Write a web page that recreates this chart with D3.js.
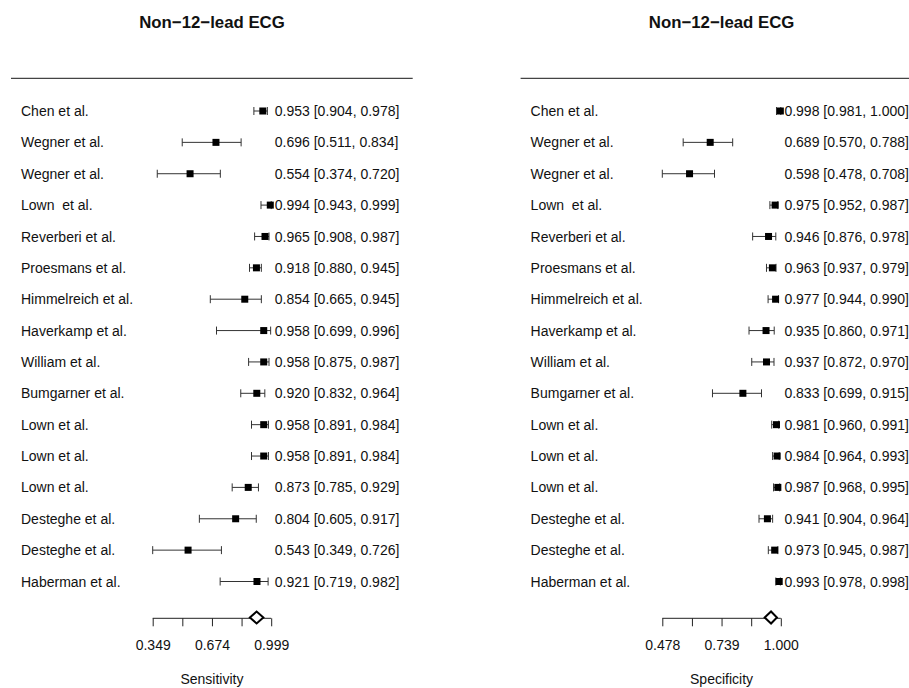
<!DOCTYPE html>
<html>
<head>
<meta charset="utf-8">
<script src="https://cdn.jsdelivr.net/npm/d3@7"></script>
<style>
  html, body { margin: 0; padding: 0; background: #fff; }
  svg text { font-family: "Liberation Sans", Arial, Helvetica, sans-serif; fill: #111; white-space: pre; }
</style>
</head>
<body>
<svg id="chart" width="909" height="688"></svg>
<script>
// Studies (same order in both panels)
const studies = ["Chen et al.", "Wegner et al.", "Wegner et al.", "Lown  et al.", "Reverberi et al.",
  "Proesmans et al.", "Himmelreich et al.", "Haverkamp et al.", "William et al.", "Bumgarner et al.",
  "Lown et al.", "Lown et al.", "Lown et al.", "Desteghe et al.", "Desteghe et al.", "Haberman et al."];

// Sensitivity estimates with 95% CI
const sensitivity      = [0.953, 0.696, 0.554, 0.994, 0.965, 0.918, 0.854, 0.958, 0.958, 0.920, 0.958, 0.958, 0.873, 0.804, 0.543, 0.921];
const sensitivityLower = [0.904, 0.511, 0.374, 0.943, 0.908, 0.880, 0.665, 0.699, 0.875, 0.832, 0.891, 0.891, 0.785, 0.605, 0.349, 0.719];
const sensitivityUpper = [0.978, 0.834, 0.720, 0.999, 0.987, 0.945, 0.945, 0.996, 0.987, 0.964, 0.984, 0.984, 0.929, 0.917, 0.726, 0.982];
const sensitivityPooled = [0.919, 0.882, 0.956]; // estimate, lower, upper

// Specificity estimates with 95% CI
const specificity      = [0.998, 0.689, 0.598, 0.975, 0.946, 0.963, 0.977, 0.935, 0.937, 0.833, 0.981, 0.984, 0.987, 0.941, 0.973, 0.993];
const specificityLower = [0.981, 0.570, 0.478, 0.952, 0.876, 0.937, 0.944, 0.860, 0.872, 0.699, 0.960, 0.964, 0.968, 0.904, 0.945, 0.978];
const specificityUpper = [1.000, 0.788, 0.708, 0.987, 0.978, 0.979, 0.990, 0.971, 0.970, 0.915, 0.991, 0.993, 0.995, 0.964, 0.987, 0.998];
const specificityPooled = [0.957, 0.929, 0.983];

const panelTitle = "Non\u221212\u2212lead ECG";

const svg = d3.select("#chart");
svg.append("rect").attr("width", 909).attr("height", 688).attr("fill", "#fff");

const fmt = d3.format(".3f");
const rowY = d3.scaleLinear().domain([0, studies.length - 1]).range([111, 581.5]);

function drawPanel(offsetX, est, lo, hi, pooled, axisLabel) {
  const g = svg.append("g").attr("transform", `translate(${offsetX},0)`);

  const xMin = d3.min(lo), xMax = d3.max(hi);
  const x = d3.scaleLinear().domain([xMin, xMax]).range([152.7, 271.2]);

  // title
  g.append("text").attr("x", 212).attr("y", 28.3).attr("text-anchor", "middle")
    .style("font-size", "16.8px").style("font-weight", "bold").text(panelTitle);

  // header rule
  g.append("line").attr("x1", 11).attr("x2", 412.7).attr("y1", 78.3).attr("y2", 78.3)
    .attr("stroke", "#444").attr("stroke-width", 1.2);

  const rows = g.selectAll("g.row").data(studies.map((s, i) => ({ s, i, e: est[i], l: lo[i], h: hi[i] })))
    .join("g").attr("class", "row");

  rows.append("text").attr("x", 21).attr("y", d => rowY(d.i)).attr("dy", "0.36em")
    .style("font-size", "14px").text(d => d.s);

  // CI line and caps
  rows.append("line").attr("x1", d => x(d.l)).attr("x2", d => x(d.h))
    .attr("y1", d => rowY(d.i)).attr("y2", d => rowY(d.i)).attr("stroke", "#333").attr("stroke-width", 1);
  rows.append("line").attr("x1", d => x(d.l)).attr("x2", d => x(d.l))
    .attr("y1", d => rowY(d.i) - 4).attr("y2", d => rowY(d.i) + 4).attr("stroke", "#333").attr("stroke-width", 1);
  rows.append("line").attr("x1", d => x(d.h)).attr("x2", d => x(d.h))
    .attr("y1", d => rowY(d.i) - 4).attr("y2", d => rowY(d.i) + 4).attr("stroke", "#333").attr("stroke-width", 1);

  // point estimate
  rows.append("rect").attr("x", d => x(d.e) - 3.5).attr("y", d => rowY(d.i) - 3.5)
    .attr("width", 7).attr("height", 7).attr("fill", "#000");

  // annotation
  rows.append("text").attr("x", x.range()[1] + 3.6).attr("y", d => rowY(d.i)).attr("dy", "0.36em")
    .style("font-size", "14px").text(d => `${fmt(d.e)} [${fmt(d.l)}, ${fmt(d.h)}]`);

  // axis
  const axisY = 618.3;
  const tickVals = d3.range(5).map(k => xMin + (xMax - xMin) * k / 4);
  const axis = d3.axisBottom(x).tickValues(tickVals).tickSize(8)
    .tickFormat((d, k) => (k % 2 === 0 ? fmt(d) : ""));
  const ag = g.append("g").attr("transform", `translate(0,${axisY})`).call(axis);
  ag.select(".domain").attr("d", `M${x.range()[0]},0H${x.range()[1]}`).attr("stroke", "#222");
  ag.selectAll(".tick line").attr("stroke", "#222");
  ag.selectAll(".tick text").attr("y", 0).attr("dy", 0).attr("transform", "translate(0,31.7)")
    .style("font-size", "14px").style("font-family", "'Liberation Sans', Arial, sans-serif").attr("fill", "#111");

  // pooled diamond
  const [pe, pl, ph] = pooled;
  const dy = axisY - 0.8;
  g.append("path")
    .attr("d", `M${x(pl)},${dy}L${x(pe)},${dy - 6}L${x(ph)},${dy}L${x(pe)},${dy + 6}Z`)
    .attr("fill", "#fff").attr("stroke", "#000").attr("stroke-width", 2).attr("stroke-linejoin", "miter");

  // axis label
  g.append("text").attr("x", (x.range()[0] + x.range()[1]) / 2).attr("y", 683.5)
    .attr("text-anchor", "middle").style("font-size", "14px").text(axisLabel);
}

drawPanel(0, sensitivity, sensitivityLower, sensitivityUpper, sensitivityPooled, "Sensitivity");
drawPanel(509.6, specificity, specificityLower, specificityUpper, specificityPooled, "Specificity");
</script>
</body>
</html>
